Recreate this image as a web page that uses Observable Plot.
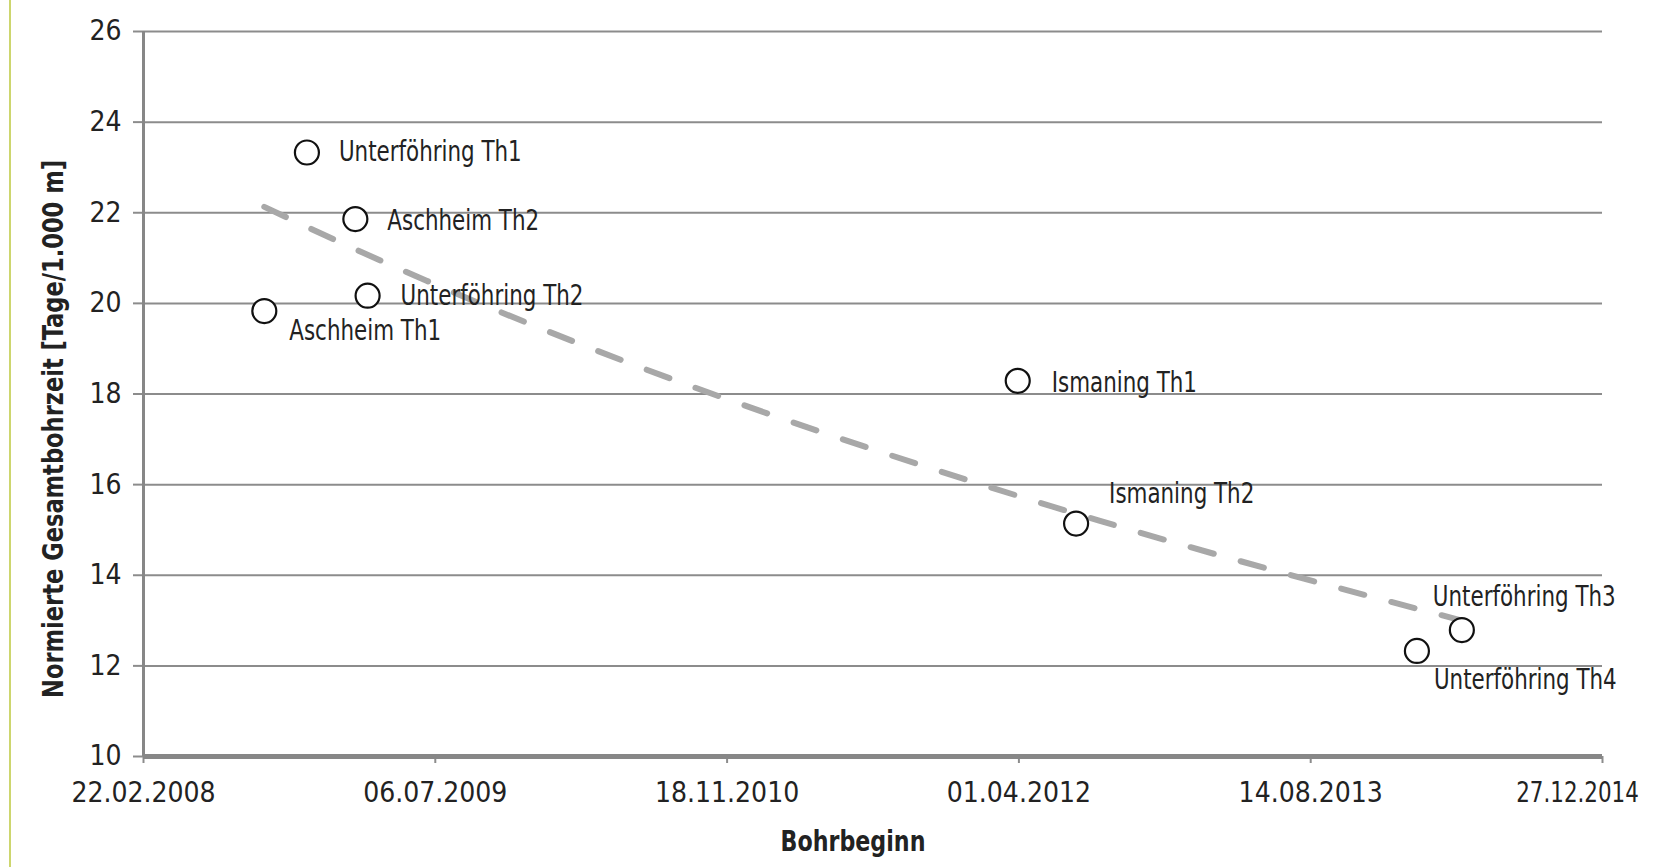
<!DOCTYPE html>
<html>
<head>
<meta charset="utf-8">
<script src="https://cdn.jsdelivr.net/npm/d3@7"></script>
<script src="https://cdn.jsdelivr.net/npm/@observablehq/plot@0.6"></script>
<style>
  html, body { margin: 0; padding: 0; background: #fff; }
  #wrap { position: relative; width: 1663px; height: 867px; overflow: hidden; }
  #edge { position: absolute; left: 9px; top: 0; width: 2px; height: 867px; background: #cdd66e; }
</style>
</head>
<body>
<div id="wrap"><div id="edge"></div><div id="chart"></div></div>
<script>
// ---- data ----
const wellNames = ["Unterföhring Th1", "Aschheim Th2", "Unterföhring Th2", "Aschheim Th1",
                   "Ismaning Th1", "Ismaning Th2", "Unterföhring Th3", "Unterföhring Th4"];
const drillStart = ["2008-11-28", "2009-02-19", "2009-03-12", "2008-09-16",
                    "2012-03-30", "2012-07-08", "2014-04-30", "2014-02-12"];
const drillTime = [23.33, 21.86, 20.17, 19.83, 18.29, 15.14, 12.79, 12.33];

// trend line (dashed)
const trendDates = ["2008-09-16", "2009-06-21", "2010-10-22", "2012-08-18", "2014-04-30"];
const trendValues = [22.13, 20.50, 18.01, 15.20, 13.00];

const xTickLabels = ["22.02.2008", "06.07.2009", "18.11.2010", "01.04.2012", "14.08.2013", "27.12.2014"];
const yTicks = [10, 12, 14, 16, 18, 20, 22, 24, 26];

const xLabel = "Bohrbeginn";
const yLabel = "Normierte Gesamtbohrzeit [Tage/1.000 m]";

// ---- build ----
const parseTick = d3.utcParse("%d.%m.%Y");
const fmtTick = d3.utcFormat("%d.%m.%Y");
const xTicks = xTickLabels.map(parseTick);
const lastTick = xTicks[xTicks.length - 1];

const points = wellNames.map((n, i) => ({name: n, date: new Date(drillStart[i]), value: drillTime[i]}));
const trend = trendDates.map((d, i) => ({date: new Date(d), value: trendValues[i]}));

// label placement (offsets in px relative to each point)
const labelOffset = {
  "Unterföhring Th1": [32, 0],
  "Aschheim Th2": [32, 2],
  "Unterföhring Th2": [33, 0],
  "Aschheim Th1": [25, 20],
  "Ismaning Th1": [34, 2],
  "Ismaning Th2": [33, -30],
  "Unterföhring Th3": [-29, -33],
  "Unterföhring Th4": [17, 29]
};

const FONT = "'Liberation Sans Narrow', 'DejaVu Sans Condensed', 'Roboto Condensed', 'Liberation Sans', sans-serif";
const TEXT = "#222";

const labelMarks = points.map(p => Plot.text([p], {
  x: "date", y: "value", text: "name",
  textAnchor: "start", lineAnchor: "middle",
  dx: labelOffset[p.name][0], dy: labelOffset[p.name][1],
  fontSize: 28, fill: TEXT
}));

const chart = Plot.plot({
  width: 1663,
  height: 867,
  marginLeft: 143,
  marginRight: 61,
  marginTop: 31,
  marginBottom: 111,
  style: {fontFamily: FONT, background: "transparent", overflow: "visible"},
  x: {type: "utc", domain: [xTicks[0], lastTick]},
  y: {domain: [10, 26]},
  marks: [
    Plot.gridY(yTicks, {stroke: "#8c8c8c", strokeOpacity: 1, strokeWidth: 2}),
    Plot.axisY(yTicks, {tickSize: 10, tickPadding: 12, stroke: "#8c8c8c", strokeWidth: 2,
                        fontSize: 28, fill: TEXT, label: null}),
    Plot.axisX(xTicks, {tickSize: 7, tickPadding: 19, stroke: "#8c8c8c", strokeWidth: 2,
                        tickFormat: d => (+d === +lastTick ? "" : fmtTick(d)),
                        fontSize: 28, fill: TEXT, label: null}),
    Plot.text([lastTick], {x: d => d, text: d => fmtTick(d), frameAnchor: "bottom",
                           dx: -25, dy: 26, lineAnchor: "top", fontSize: 28, fill: TEXT,
                           ariaLabel: "x-axis tick label"}),
    Plot.ruleX([xTicks[0]], {stroke: "#878787", strokeWidth: 3}),
    Plot.ruleY([10], {stroke: "#878787", strokeWidth: 5}),
    Plot.line(trend, {x: "date", y: "value", curve: "natural", stroke: "#a8a8a8",
                      strokeWidth: 6, strokeDasharray: "24,28", strokeLinecap: "round"}),
    Plot.dot(points, {x: "date", y: "value", r: 12, stroke: "#111", strokeWidth: 2.2, fill: "white"}),
    ...labelMarks,
    Plot.text([xLabel], {frameAnchor: "bottom", dx: -20, dy: 85, fontSize: 29,
                         fontWeight: "bold", fill: TEXT, lineAnchor: "middle"}),
    Plot.text([yLabel], {frameAnchor: "left", rotate: -90, dx: -90, dy: 35, fontSize: 29,
                         textAnchor: "middle", fontWeight: "bold", fill: TEXT, lineAnchor: "middle"})
  ]
});
document.getElementById("chart").appendChild(chart);

// condense the label texts (the reference uses a condensed typeface)
chart.querySelectorAll('g[aria-label="text"] text').forEach(t => {
  const len = t.getComputedTextLength();
  const target = t.textContent === yLabel ? 538 : len * 0.85;
  t.setAttribute("textLength", target);
  t.setAttribute("lengthAdjust", "spacingAndGlyphs");
});
</script>
</body>
</html>
